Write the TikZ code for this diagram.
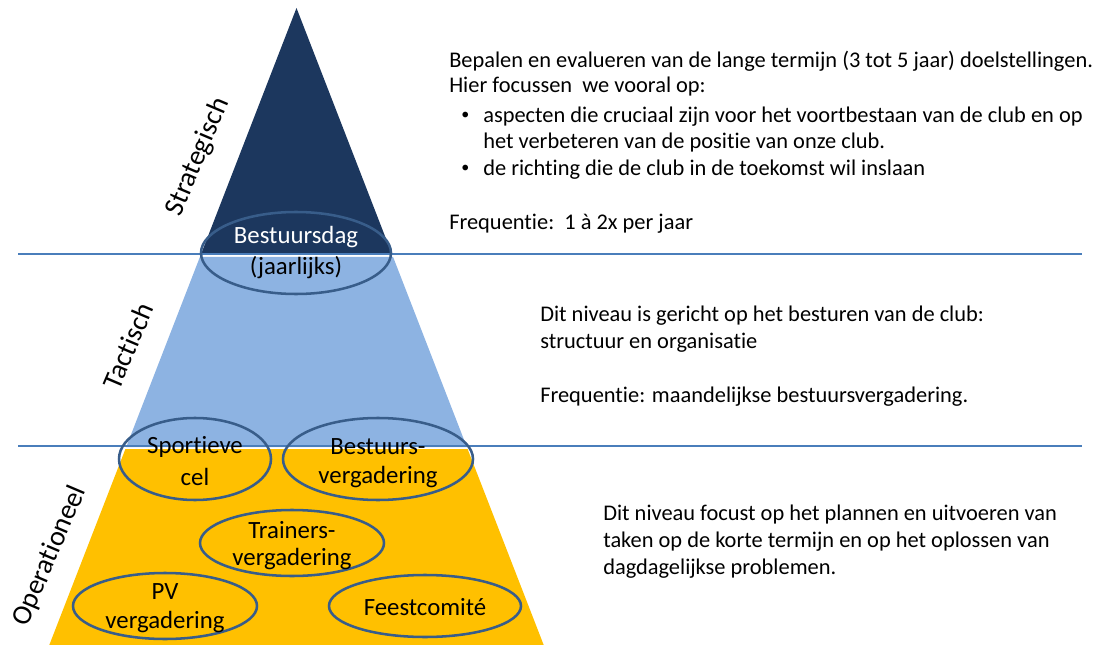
\documentclass[tikz,border=0pt]{standalone}
\usepackage{fontspec}
\setmainfont{Carlito}[Ligatures=NoCommon]
\usetikzlibrary{shapes.geometric}
\definecolor{navy}{RGB}{28,55,94}
\definecolor{lblue}{RGB}{141,179,226}
\definecolor{gold}{RGB}{255,192,0}
\definecolor{ovalc}{RGB}{56,93,138}
\definecolor{linec}{RGB}{74,126,187}
\tikzset{
  oval/.style={ellipse, draw=ovalc, line width=1.9pt, inner sep=0pt},
  otext/.style={font=\fontsize{18.6}{20}\selectfont, inner sep=0pt},
  body/.style={font=\fontsize{16.8}{19}\selectfont, anchor=west, inner sep=0pt},
  bul/.style={font=\fontsize{12}{14}\selectfont, anchor=west, inner sep=0pt},
  level/.style={font=\fontsize{21}{23}\selectfont, inner sep=0pt, rotate=67},
  sep/.style={draw=linec, line width=1.1pt},
}
\begin{document}
\begin{tikzpicture}[x=0.75pt,y=-0.75pt]
\useasboundingbox (0,0) rectangle (1099,645);
% pyramid layers
\fill[navy] (296.5,8) -- (392.3,255) -- (200.7,255) -- cycle;
\fill[lblue] (199.9,257) -- (393.1,257) -- (466.8,447) -- (126.2,447) -- cycle;
\fill[gold] (125.4,449) -- (467.6,449) -- (543.7,645) -- (49.3,645) -- cycle;
% separator lines
\coordinate (l1a) at (18,254);
\coordinate (l1b) at (1082,254);
\coordinate (l2a) at (18,446);
\coordinate (l2b) at (1082,446);
\draw[sep] (l1a) -- (l1b);
\draw[sep] (l2a) -- (l2b);
% ellipses
\node[oval, minimum width=142.5pt, minimum height=61.5pt] (e1) at (296,253) {};
\node[oval, minimum width=114pt, minimum height=61.5pt] (e2) at (195,459) {};
\node[oval, minimum width=142.5pt, minimum height=61.5pt] (e3) at (378,459) {};
\node[oval, minimum width=138pt, minimum height=49.5pt] (e4) at (292,543) {};
\node[oval, minimum width=138pt, minimum height=49.5pt] (e5) at (165,606) {};
\node[oval, minimum width=144pt, minimum height=46.5pt] (e6) at (425,606) {};
% ellipse texts
\node[otext, text=white] (t1a) at (296,237) {Bestuursdag};
\node[otext] (t1b) at (296,268) {(jaarlijks)};
\node[otext] (t2a) at (195,447) {Sportieve};
\node[otext] (t2b) at (195,477) {cel};
\node[otext] (t3a) at (378,447) {Bestuurs-};
\node[otext] (t3b) at (378,477) {vergadering};
\node[otext] (t4a) at (292,530) {Trainers-};
\node[otext] (t4b) at (292,559) {vergadering};
\node[otext] (t5a) at (165,592) {PV};
\node[otext] (t5b) at (165,622) {vergadering};
\node[otext] (t6) at (425,607) {Feestcomité};
% level labels
\node[level] (s) at (198,157) {Strategisch};
\node[level] (t) at (128,346) {Tactisch};
\node[level] (o) at (50,556) {Operationeel};
% right texts, block 1
\node[body] (b1) at (449,61) {Bepalen en evalueren van de lange termijn (3 tot 5 jaar) doelstellingen.};
\node[body] (b2) at (449,87) {Hier focussen\ \ we vooral op:};
\node[bul] (b3d) at (461,116) {\textbullet};
\node[body] (b3) at (483,117) {aspecten die cruciaal zijn voor het voortbestaan van de club en op};
\node[body] (b4) at (483,143) {het verbeteren van de positie van onze club.};
\node[bul] (b5d) at (461,169) {\textbullet};
\node[body] (b5) at (483,170) {de richting die de club in de toekomst wil inslaan};
\node[body] (b6) at (449,224) {Frequentie:\ \ 1 à 2x per jaar};
% block 2
\node[body] (c1) at (540,316) {Dit niveau is gericht op het besturen van de club:};
\node[body] (c2) at (540,343) {structuur en organisatie};
\node[body] (c3) at (540,397) {Frequentie: maandelijkse bestuursvergadering.};
% block 3
\node[body] (d1) at (603,515) {Dit niveau focust op het plannen en uitvoeren van};
\node[body] (d2) at (603,542) {taken op de korte termijn en op het oplossen van};
\node[body] (d3) at (603,569) {dagdagelijkse problemen.};
\end{tikzpicture}
\end{document}
